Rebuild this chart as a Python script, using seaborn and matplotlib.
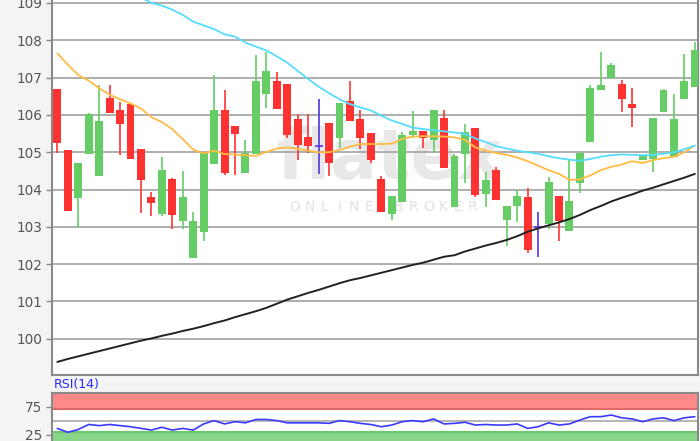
import numpy as np
import pandas as pd
import matplotlib
matplotlib.use("Agg")
import matplotlib.pyplot as plt
import seaborn as sns

# ---------------- data ----------------
opens = [106.69, 105.05, 103.78, 104.97, 104.38, 106.44, 106.13, 106.29, 105.09, 103.80,
         103.36, 104.28, 103.18, 102.18, 102.87, 104.70, 106.13, 105.68, 104.45, 104.95,
         106.58, 106.89, 106.83, 105.89, 105.41, 105.16, 105.77, 105.39, 106.37, 105.89,
         105.51, 104.28, 103.36, 103.67, 105.48, 105.57, 105.33, 105.92, 103.54, 104.97,
         105.64, 103.90, 104.52, 103.20, 103.56, 103.79, 102.99, 103.08, 103.83, 102.89,
         104.18, 105.28, 106.67, 107.00, 106.83, 106.29, 104.79, 104.84, 106.09, 104.88,
         106.43, 106.77]
highs = [106.70, 105.07, 104.72, 106.05, 106.79, 106.79, 106.35, 106.32, 105.10, 103.93,
         104.88, 104.30, 104.50, 103.39, 105.00, 107.07, 106.67, 105.70, 105.33, 107.61,
         107.69, 107.14, 106.83, 106.02, 106.02, 106.44, 105.77, 106.30, 106.91, 106.13,
         105.51, 104.37, 103.81, 105.55, 106.10, 105.57, 106.13, 106.13, 104.95, 105.77,
         105.64, 104.46, 104.61, 103.56, 103.99, 104.05, 103.39, 104.34, 103.83, 104.79,
         104.97, 106.80, 107.69, 107.40, 106.94, 106.71, 104.93, 105.92, 106.69, 106.55,
         107.63, 107.96]
lows = [104.97, 103.43, 103.00, 104.97, 104.36, 106.05, 104.92, 104.82, 103.36, 103.30,
        103.30, 102.94, 102.94, 102.18, 102.63, 104.70, 104.39, 104.39, 104.45, 104.95,
        106.18, 106.18, 105.39, 104.79, 104.98, 104.42, 104.37, 105.12, 105.86, 105.08,
        104.70, 103.42, 103.18, 103.67, 105.39, 105.12, 104.97, 104.58, 103.54, 104.17,
        103.81, 103.54, 103.72, 102.49, 103.12, 102.29, 102.18, 102.94, 102.63, 102.89,
        103.90, 105.28, 106.67, 107.00, 106.07, 105.67, 104.79, 104.48, 106.09, 104.88,
        106.43, 106.77]
closes = [105.27, 103.43, 104.70, 106.02, 105.84, 106.07, 105.76, 104.83, 104.26, 103.64,
          104.52, 103.34, 103.80, 103.16, 104.99, 106.13, 104.45, 105.49, 104.97, 106.89,
          107.18, 106.18, 105.48, 105.21, 105.17, 105.16, 104.72, 106.30, 105.86, 105.39,
          104.81, 103.42, 103.81, 105.44, 105.57, 105.39, 106.13, 104.58, 104.88, 105.53,
          103.87, 104.25, 103.72, 103.56, 103.83, 102.40, 102.99, 104.18, 103.18, 103.69,
          104.97, 106.71, 106.78, 107.34, 106.43, 106.20, 104.91, 105.92, 106.65, 105.89,
          106.89, 107.74]

ma_orange = [107.65, 107.35, 107.07, 106.92, 106.72, 106.54, 106.42, 106.31, 106.17, 105.94,
             105.81, 105.62, 105.35, 105.07, 104.97, 105.04, 104.95, 104.94, 104.92, 104.90,
             105.01, 105.10, 105.13, 105.09, 105.04, 105.00, 105.00, 105.06, 105.15, 105.22,
             105.22, 105.22, 105.23, 105.36, 105.42, 105.43, 105.43, 105.42, 105.40, 105.33,
             105.13, 105.04, 104.98, 104.93, 104.86, 104.76, 104.64, 104.52, 104.42, 104.26,
             104.27, 104.38, 104.52, 104.61, 104.67, 104.76, 104.71, 104.79, 104.84, 104.88,
             105.00, 105.18]
cyan_start = 7
ma_cyan = [109.30, 109.15, 109.00, 108.93, 108.82, 108.68, 108.50, 108.40, 108.30, 108.16,
           108.10, 107.94, 107.83, 107.73, 107.57, 107.40, 107.18, 106.96, 106.76, 106.58,
           106.42, 106.29, 106.20, 106.12, 105.98, 105.85, 105.76, 105.66, 105.62, 105.59,
           105.56, 105.53, 105.49, 105.37, 105.27, 105.16, 105.10, 105.04, 105.00, 104.96,
           104.89, 104.84, 104.80, 104.77, 104.82, 104.88, 104.92, 104.94, 104.93, 104.92,
           104.93, 104.96, 105.00, 105.08, 105.18]
ma_black = [99.38, 99.46, 99.53, 99.60, 99.67, 99.74, 99.81, 99.88, 99.95, 100.01,
            100.08, 100.14, 100.21, 100.27, 100.34, 100.42, 100.49, 100.58, 100.66, 100.74,
            100.83, 100.94, 101.05, 101.14, 101.23, 101.31, 101.40, 101.49, 101.57, 101.63,
            101.70, 101.77, 101.84, 101.91, 101.98, 102.04, 102.12, 102.20, 102.24, 102.34,
            102.42, 102.50, 102.57, 102.65, 102.75, 102.87, 102.96, 103.04, 103.12, 103.21,
            103.32, 103.45, 103.56, 103.68, 103.78, 103.87, 103.97, 104.05, 104.14, 104.23,
            104.32, 104.42]
rsi = [36, 29, 34, 43, 41, 43, 41, 39, 36, 33,
       38, 33, 36, 33, 44, 50, 44, 48, 46, 52,
       52, 50, 46, 46, 46, 46, 45, 50, 48, 45,
       43, 39, 42, 48, 50, 48, 53, 44, 45, 47,
       42, 43, 42, 42, 44, 36, 39, 46, 42, 44,
       51, 57, 57, 60, 55, 53, 48, 53, 55, 50,
       55, 57]
price_ticks = [100, 101, 102, 103, 104, 105, 106, 107, 108, 109]
rsi_ticks = [25, 75]
doji_idx = [25, 46]

# ---------------- figure ----------------
sns.set_theme(style="white")
plt.rcParams["font.family"] = ["DejaVu Sans"]

W, H = 700, 441
fig = plt.figure(figsize=(W / 100, H / 100), dpi=100, facecolor="#f4f4f4")
ax = fig.add_axes([52 / W, 1 - 375 / H, (698 - 52) / W, 375 / H])
ax2 = fig.add_axes([52 / W, 0, (698 - 52) / W, (441 - 392.7) / H])

df = pd.DataFrame({"i": np.arange(len(opens)), "o": opens, "h": highs,
                   "l": lows, "c": closes})

RED = "#ff3232"
GREEN = "#66cc66"
DOJI = "#5533dd"

ax.set_facecolor("white")
for v in price_ticks:
    ax.axhline(v, color="#a8a8a8", lw=1.3, zorder=0)

# watermark (logo + caption), drawn behind the transparent price axes
fig.patches.append(plt.Rectangle((52 / W, 1 - 375 / H), (698 - 52) / W, 375 / H,
                                 transform=fig.transFigure, color="white", zorder=-1))
fig.text(390 / W, 1 - 160 / H, "flatex", color="#e8e8e8", fontsize=50,
         fontweight="bold", ha="center", va="center", zorder=0.5)
caption = "ONLINE BROKER"
for k, ch in enumerate(caption):
    fig.text((295 + 14.8 * k) / W, 1 - 207 / H, ch, color="#e2e2e2", fontsize=10,
             ha="center", va="center", zorder=0.5)
ax.set_zorder(1)
ax.patch.set_alpha(0)

for _, r in df.iterrows():
    i = r["i"]
    if i in doji_idx:
        ax.vlines(i, r["l"], r["h"], color=DOJI, lw=1.2, zorder=3)
        ax.hlines(r["c"], i - 0.38, i + 0.38, color=DOJI, lw=1.2, zorder=3)
        continue
    col = GREEN if r["c"] >= r["o"] else RED
    ax.vlines(i, r["l"], r["h"], color=col, lw=1.2, zorder=3)
    ax.bar(i, abs(r["c"] - r["o"]) + 0.02, bottom=min(r["o"], r["c"]) - 0.01,
           width=0.76, color=col, zorder=3, linewidth=0)

idx = np.arange(len(opens))
sns.lineplot(x=idx, y=ma_black, ax=ax, color="#222222", lw=1.4, zorder=4)
sns.lineplot(x=idx, y=ma_orange, ax=ax, color="#ffbb44", lw=1.3, zorder=4)
sns.lineplot(x=np.arange(cyan_start, cyan_start + len(ma_cyan)), y=ma_cyan, ax=ax,
             color="#55ddff", lw=1.3, zorder=4)

ax.set_xlim(-0.51, 61.3)
ax.set_ylim(99.03, 109.08)
ax.set_yticks(price_ticks)
ax.set_yticklabels([str(t) for t in price_ticks])
ax.set_xticks([])
ax.tick_params(axis="y", length=4, width=1, color="#888888", labelcolor="#555555",
               labelsize=9.8, pad=3, left=True)
for s in ["left", "bottom", "right"]:
    ax.spines[s].set_color("#8a8a8a")
    ax.spines[s].set_linewidth(1.5)
ax.spines["top"].set_visible(False)
ax.grid(False)
ax.set_xlabel("")
ax.set_ylabel("")

# ---------------- RSI panel ----------------
ax2.set_facecolor("white")
ax2.axhspan(70, 100, color="#ff8888", lw=0, zorder=0)
ax2.axhline(70, color="#e06a6a", lw=1.5, zorder=1)
ax2.axhline(99.3, color="#e06a6a", lw=1.5, zorder=1)
ax2.axhspan(0, 30, color="#88d488", lw=0, zorder=0)
ax2.axhline(30, color="#6cc66c", lw=1.5, zorder=1)
ax2.axhline(50, color="#b0b0b0", lw=1.3, zorder=1)
sns.lineplot(x=idx, y=rsi, ax=ax2, color="#3a3aff", lw=1.2, zorder=3)
ax2.set_xlim(-0.51, 61.3)
ax2.set_ylim(13.4, 100)
ax2.set_yticks(rsi_ticks)
ax2.set_yticklabels([str(t) for t in rsi_ticks])
ax2.set_xticks([])
ax2.tick_params(axis="y", length=4, width=1, color="#888888", labelcolor="#555555",
                labelsize=9.8, pad=3, left=True)
for s in ["left", "right", "top"]:
    ax2.spines[s].set_color("#8a8a8a")
    ax2.spines[s].set_linewidth(1.5)
ax2.spines["bottom"].set_visible(False)
ax2.grid(False)
ax2.set_xlabel("")
ax2.set_ylabel("")

fig.text(54 / W, 1 - 384.5 / H, "RSI(14)", color="#2a2aff", fontsize=9,
         va="center", ha="left")

fig.savefig("out.png", dpi=100, facecolor=fig.get_facecolor())
